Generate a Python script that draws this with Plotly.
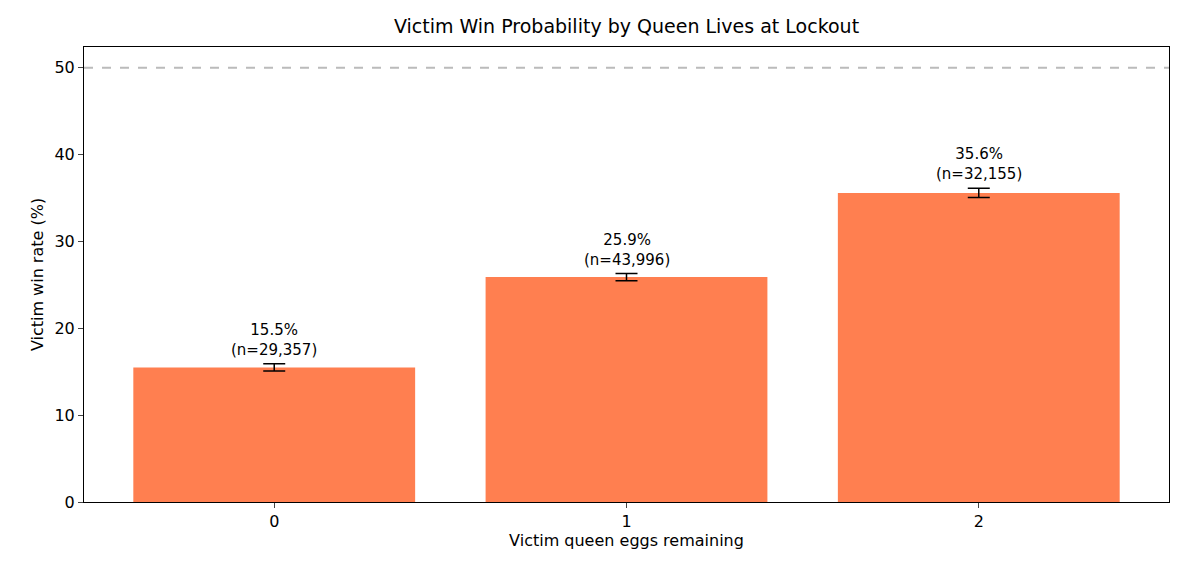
import plotly.graph_objects as go

# data
eggs = [0, 1, 2]
win_rate = [15.5, 25.9, 35.6]
err = [0.42, 0.41, 0.52]
n_games = [29357, 43996, 32155]
labels = [f"{r:.1f}%<br>(n={n:,})" for r, n in zip(win_rate, n_games)]

fig = go.Figure()
fig.add_trace(go.Bar(
    x=eggs, y=win_rate, width=0.8, marker=dict(color='#FF7F50', line=dict(width=0)),
    error_y=dict(type='data', array=err, color='black', thickness=1.5, width=11),
    showlegend=False,
))

# 数值标签
for x, y, e, t in zip(eggs, win_rate, err, labels):
    fig.add_annotation(x=x, y=y + e, text=t, showarrow=False, yanchor='bottom', yshift=3,
                       font=dict(size=15, color='black'))

fig.add_hline(y=50, line=dict(color='#bbbbbb', dash='dash', width=2))

# 页面有8px边距，所以图小一点
fig.update_layout(
    width=1168, height=565, plot_bgcolor='white', paper_bgcolor='white',
    margin=dict(l=76, r=7, t=39, b=71),
    font=dict(family='DejaVu Sans', size=16, color='black'),
    title=dict(text='Victim Win Probability by Queen Lives at Lockout', x=0.5, xanchor='center',
               xref='paper', y=1 - 18 / 565, yanchor='middle', font=dict(size=19)),
)
fig.update_xaxes(range=[-0.54, 2.54], tickvals=eggs, ticks='outside', ticklen=5,
                 showline=True, linecolor='black', mirror=True, showgrid=False,
                 tickfont=dict(size=16),
                 title=dict(text='Victim queen eggs remaining', standoff=4, font=dict(size=16)))
fig.update_yaxes(range=[0, 52.4], tickvals=[0, 10, 20, 30, 40, 50], ticks='outside', ticklen=5,
                 showline=True, linecolor='black', mirror=True, showgrid=False, zeroline=False,
                 tickfont=dict(size=16),
                 title=dict(text='Victim win rate (%)', standoff=6, font=dict(size=16)))

fig.write_html("out.html")
